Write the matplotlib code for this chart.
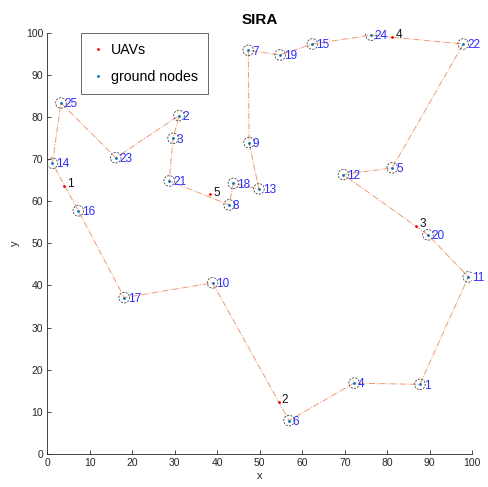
import matplotlib
matplotlib.use("Agg")
import matplotlib.pyplot as plt
from matplotlib.patches import Ellipse
import numpy as np

plt.rcParams['font.family'] = ['Liberation Sans', 'DejaVu Sans']

# Ground nodes (id -> x, y)
node_ids = list(range(1, 26))
node_x = [87.7, 31.0, 29.6, 72.2, 81.2, 56.9, 47.3, 42.8, 47.5, 38.9,
          99.1, 69.7, 49.8, 1.2, 62.4, 7.3, 18.1, 43.8, 54.8, 89.6,
          28.7, 97.9, 16.1, 76.2, 3.2]
node_y = [16.5, 80.3, 74.9, 16.8, 67.9, 7.9, 95.8, 59.1, 73.9, 40.6,
          42.0, 66.3, 62.9, 69.0, 97.3, 57.7, 37.1, 64.2, 94.7, 52.0,
          64.8, 97.3, 70.3, 99.4, 83.3]

# UAV positions
uav_ids = [1, 2, 3, 4, 5]
uav_x = [4.0, 54.5, 86.9, 81.2, 38.3]
uav_y = [63.7, 12.3, 54.1, 99.0, 61.6]

# Tour through ground nodes (closed)
tour = [14, 25, 23, 2, 3, 21, 8, 18, 13, 9, 7, 19, 15, 24, 22, 5, 12, 20,
        11, 1, 4, 6, 10, 17, 16, 14]

fig = plt.figure(figsize=(4.88, 4.87), dpi=100)
ax = fig.add_axes([0.097, 0.068, 0.8705, 0.865])

tx = [node_x[i - 1] for i in tour]
ty = [node_y[i - 1] for i in tour]
ax.plot(tx, ty, linestyle='-.', color='#EE9A72', linewidth=0.7, zorder=2)

# coverage circles
r = 1.25
for x, y in zip(node_x, node_y):
    ax.add_patch(Ellipse((x, y), 2 * r, 2 * r * 4.25 / 4.215, fill=False,
                         edgecolor='#444444', linestyle=(0, (2.5, 1.5)),
                         linewidth=0.6, zorder=3))

ax.plot(uav_x, uav_y, linestyle='none', marker='.', markersize=2,
        color='#FF0000', label='UAVs', zorder=4)
ax.plot(node_x, node_y, linestyle='none', marker='.', markersize=2,
        color='#0072BD', label='ground nodes', zorder=4)

for i, x, y in zip(node_ids, node_x, node_y):
    ax.text(x + 0.9, y - 0.3, str(i), color='#2B2BFF', fontsize=8.5,
            va='center', ha='left', zorder=5)
for i, x, y in zip(uav_ids, uav_x, uav_y):
    ax.text(x + 0.7, y + 0.4, str(i), color='#111111', fontsize=8.5,
            va='center', ha='left', zorder=5)

ax.set_xlim(0, 100)
ax.set_ylim(0, 100)
ax.set_xticks(np.arange(0, 101, 10))
ax.set_yticks(np.arange(0, 101, 10))
for s in ['top', 'right']:
    ax.spines[s].set_visible(False)
for s in ['left', 'bottom']:
    ax.spines[s].set_color('#262626')
    ax.spines[s].set_linewidth(0.6)
ax.tick_params(direction='in', length=3, width=0.6, colors='#262626',
               labelsize=7.5, pad=3)
ax.set_xlabel('x', fontsize=8, color='#262626', labelpad=2)
ax.set_ylabel('y', fontsize=8, color='#262626', labelpad=4)
ax.set_title('SIRA', fontsize=11, fontweight='bold', pad=6)

leg = ax.legend(loc='upper left', bbox_to_anchor=(0.079, 1.0),
                borderaxespad=0, fontsize=10.2, frameon=True, fancybox=False,
                edgecolor='#262626', markerscale=1.0, handlelength=1.0,
                handletextpad=0.45, borderpad=0.7, labelspacing=0.95)
leg.get_frame().set_linewidth(0.6)

fig.savefig('out.png', dpi=100)
